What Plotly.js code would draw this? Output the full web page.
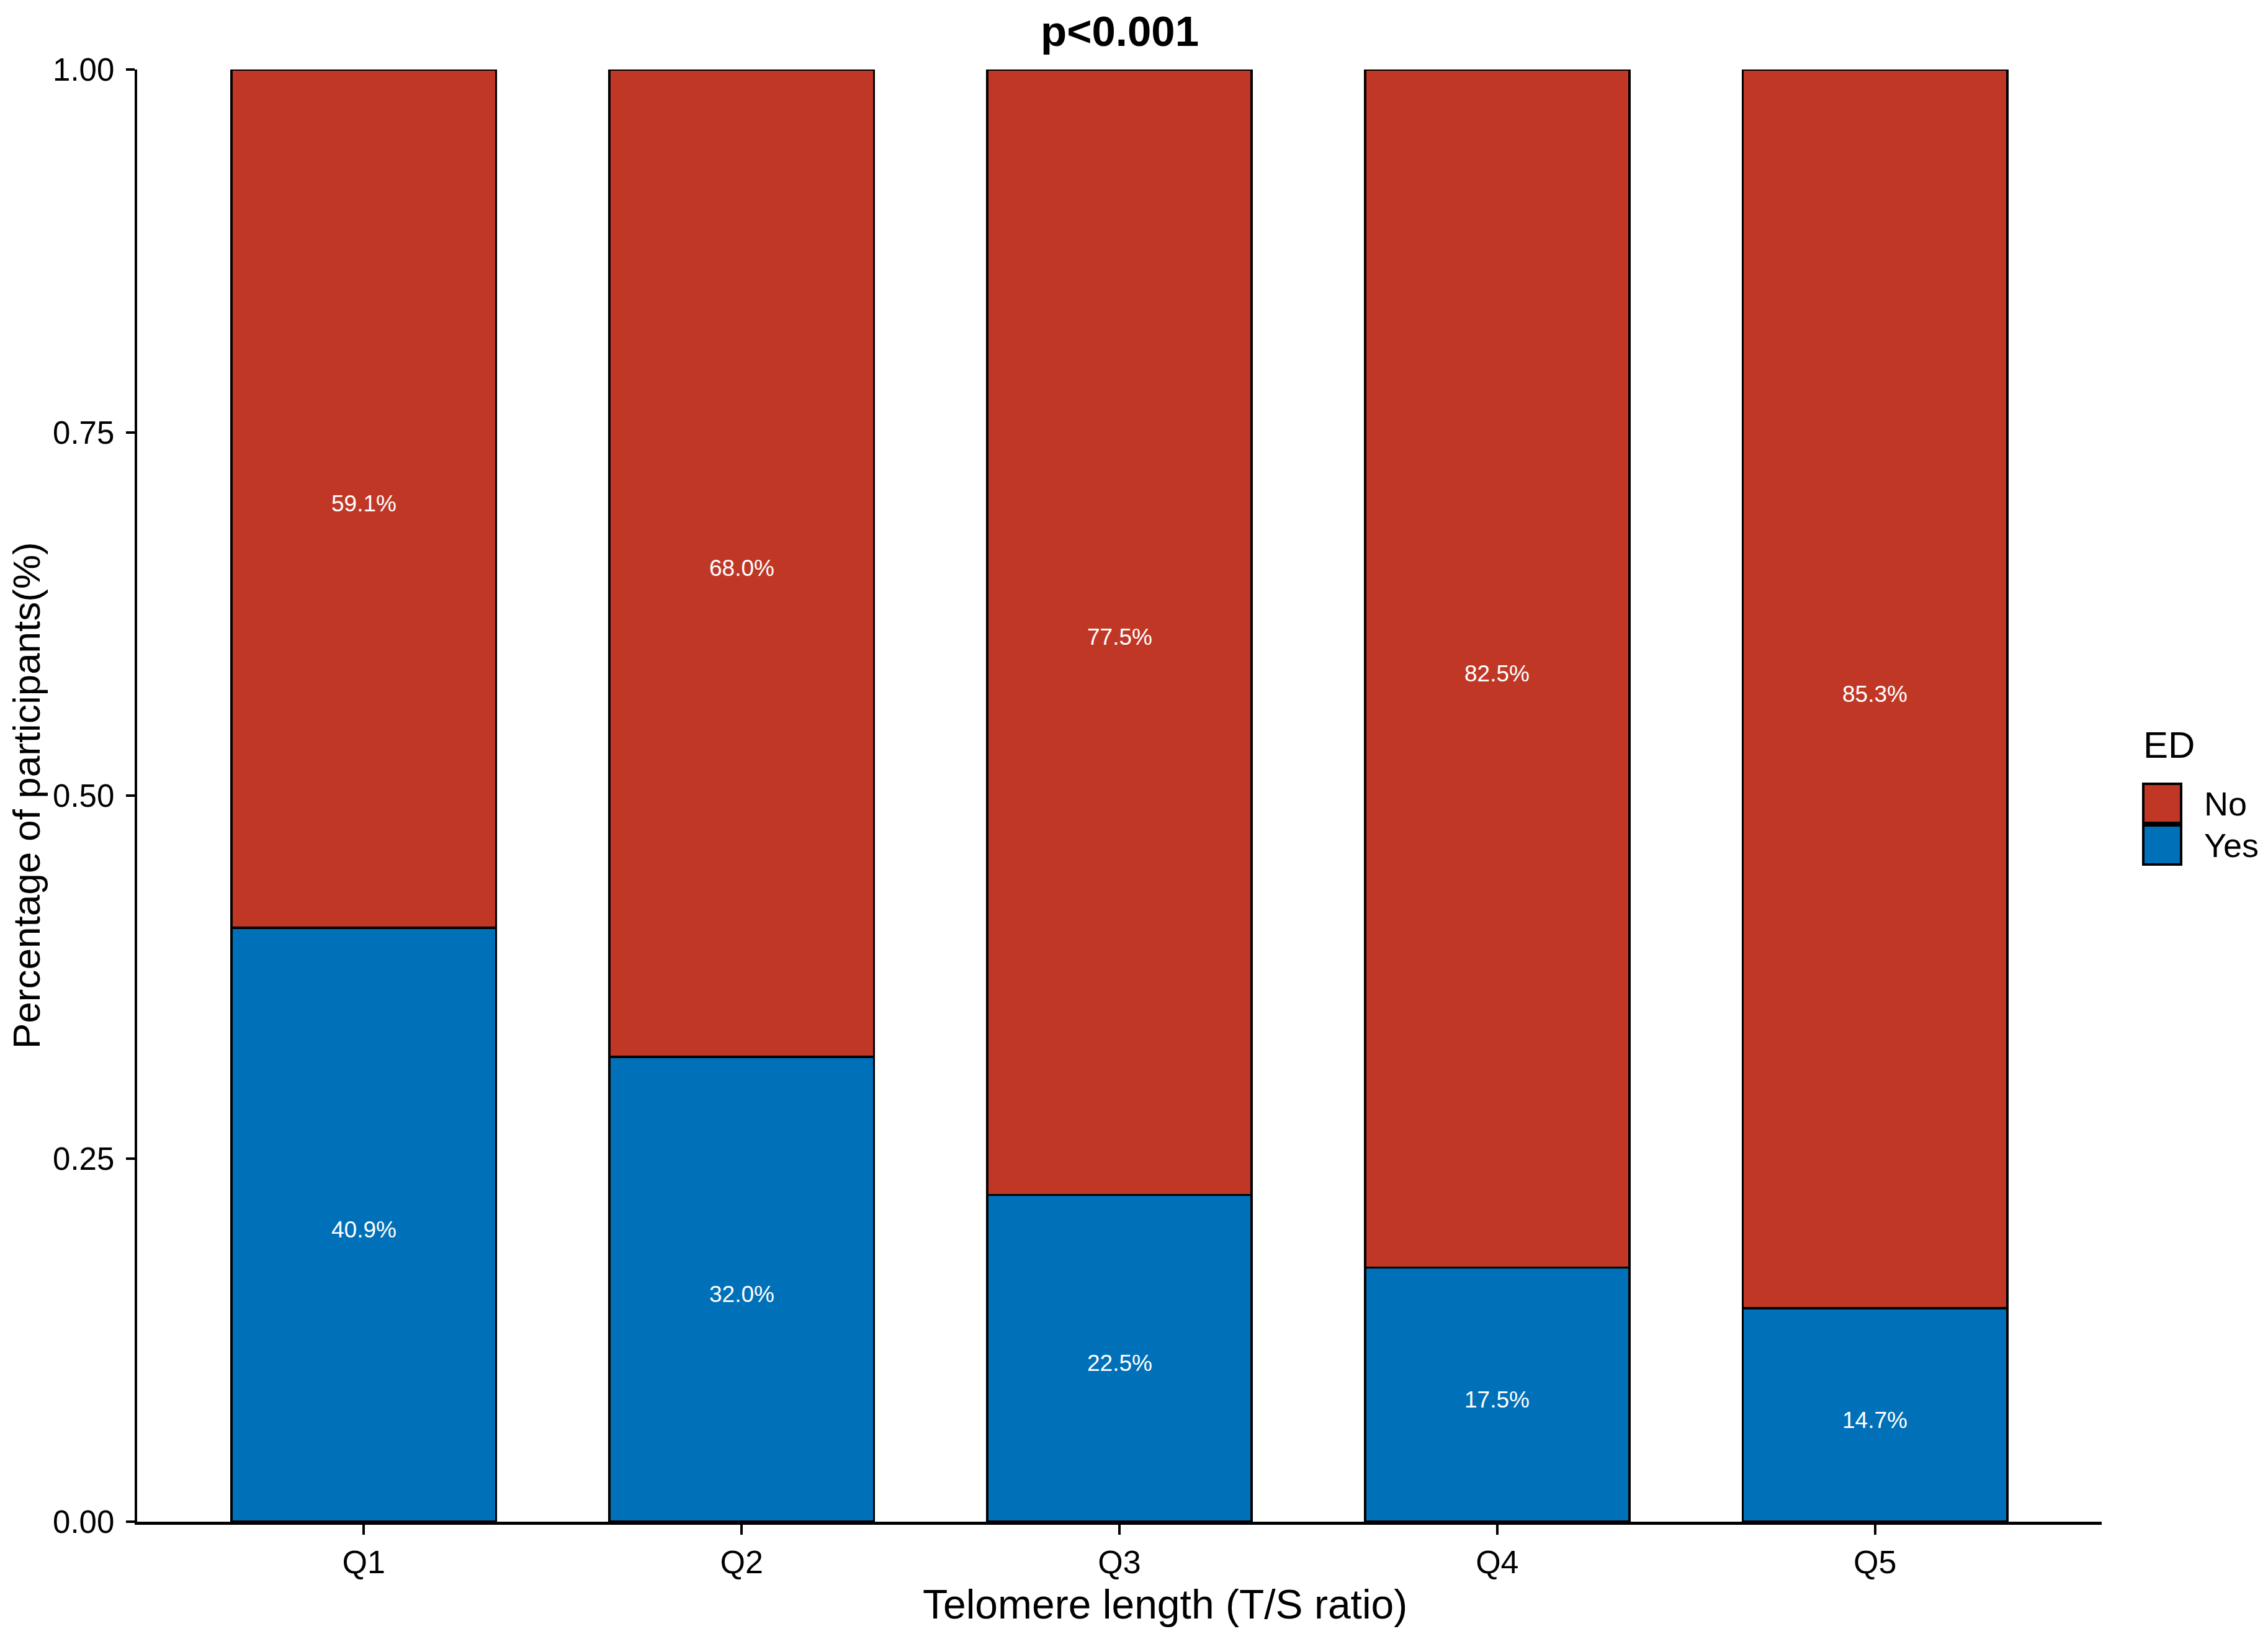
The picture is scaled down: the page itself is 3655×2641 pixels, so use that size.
<!DOCTYPE html>
<html>
<head>
<meta charset="utf-8">
<script src="https://cdn.plot.ly/plotly-3.0.1.min.js"></script>
<style>
html,body{margin:0;padding:0;background:#fff}
#chart{width:3655px;height:2641px}
</style>
</head>
<body>
<div id="chart"></div>
<script>
// telomere length quintiles and share of participants with / without ED
let quintiles=["Q1","Q2","Q3","Q4","Q5"]
let yesShare=[0.409,0.320,0.225,0.175,0.147]
let noShare=[0.591,0.680,0.775,0.825,0.853]
let yTicks=[0,0.25,0.5,0.75,1]
let yTickText=["0.00","0.25","0.50","0.75","1.00"]
let legendNames=["No","Yes"]
let legendColors=["#C03726","#0070B8"]

let W=3655,H=2641
let L=221,R=268,T=112,B=189
let pw=W-L-R,ph=H-T-B

// pixel -> paper helpers (for legend / titles placed outside the panel)
function px(x){return (x-L)/pw}
function py(y){return (H-B-y)/ph}

let fontFam="Liberation Sans, Arial, Helvetica, sans-serif"

function pct(v){return (v*100).toFixed(1)+"%"}

let traces=[
{
type:"bar",
name:"Yes",
x:quintiles,
y:yesShare,
marker:{color:legendColors[1],line:{color:"#000",width:3.5}},
showlegend:false,
hoverinfo:"skip"
},
{
type:"bar",
name:"No",
x:quintiles,
y:noShare,
marker:{color:legendColors[0],line:{color:"#000",width:3.5}},
showlegend:false,
hoverinfo:"skip"
}
]

let shapes=[]
let annotations=[]

// percentage labels in the middle of each stacked segment
quintiles.forEach((q,i)=>{
annotations.push({
x:q,y:yesShare[i]/2,xref:"x",yref:"y",showarrow:false,yshift:-8,
text:pct(yesShare[i]),font:{family:fontFam,size:37,color:"#fff"}
})
annotations.push({
x:q,y:yesShare[i]+noShare[i]/2,xref:"x",yref:"y",showarrow:false,yshift:-8,
text:pct(noShare[i]),font:{family:fontFam,size:37,color:"#fff"}
})
})

// hand-made ggplot style legend
annotations.push({
xref:"paper",yref:"paper",x:px(3452),y:py(1200),
xanchor:"left",yanchor:"middle",showarrow:false,
text:"ED",font:{family:fontFam,size:60,color:"#000"}
})

let keyTop=[1263,1330]
legendNames.forEach((n,i)=>{
shapes.push({
type:"rect",xref:"paper",yref:"paper",
x0:px(3454),x1:px(3515),y0:py(keyTop[i]),y1:py(keyTop[i]+63),
fillcolor:legendColors[i],line:{color:"#000",width:4}
})
annotations.push({
xref:"paper",yref:"paper",x:px(3550),y:py(keyTop[i]+32),
xanchor:"left",yanchor:"middle",showarrow:false,
text:n,font:{family:fontFam,size:54,color:"#000"}
})
})

// plot title
annotations.push({
xref:"paper",yref:"paper",x:0.5,y:py(50),
xanchor:"center",yanchor:"middle",showarrow:false,
text:"<b>p&lt;0.001</b>",font:{family:fontFam,size:69,color:"#000"}
})

// axis titles
annotations.push({
xref:"paper",yref:"paper",x:px(1877),y:py(2585),
xanchor:"center",yanchor:"middle",showarrow:false,
text:"Telomere length (T/S ratio)",font:{family:fontFam,size:66,color:"#000"}
})
annotations.push({
xref:"paper",yref:"paper",x:px(42),y:0.5,
xanchor:"center",yanchor:"middle",showarrow:false,textangle:-90,
text:"Percentage of participants(%)",font:{family:fontFam,size:62,color:"#000"}
})

let layout={
width:W,height:H,
margin:{l:L,r:R,t:T,b:B,pad:0},
paper_bgcolor:"#fff",
plot_bgcolor:"#fff",
barmode:"stack",
bargap:0.3,
showlegend:false,
font:{family:fontFam,color:"#000"},
xaxis:{
type:"category",
range:[-0.6,4.6],
showgrid:false,zeroline:false,
showline:true,linecolor:"#000",linewidth:4.5,
ticks:"outside",ticklen:16,tickwidth:4,tickcolor:"#000",
tickfont:{family:fontFam,size:52,color:"#000"},
fixedrange:true
},
yaxis:{
range:[0,1],
tickvals:yTicks,
ticktext:yTickText,
showgrid:false,zeroline:false,
showline:true,linecolor:"#000",linewidth:4.5,
ticks:"outside",ticklen:14,tickwidth:4,tickcolor:"#000",
ticklabelstandoff:8,
tickfont:{family:fontFam,size:51,color:"#000"},
fixedrange:true
},
shapes:shapes,
annotations:annotations
}

Plotly.newPlot("chart",traces,layout,{displayModeBar:false,staticPlot:true})
</script>
</body>
</html>
